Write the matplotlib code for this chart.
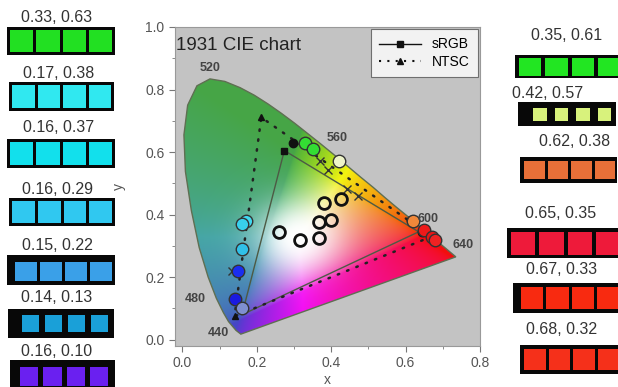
import numpy as np
import matplotlib.pyplot as plt
from matplotlib.patches import Polygon, Rectangle
from matplotlib.lines import Line2D

plt.rcParams['font.family'] = ['Liberation Sans', 'DejaVu Sans']

# spectral locus, 450 nm -> 700 nm
locus_x = [0.157, 0.144, 0.124, 0.110, 0.091, 0.069, 0.045, 0.024, 0.008, 0.004,
           0.014, 0.039, 0.074, 0.114, 0.155, 0.193, 0.230, 0.266, 0.302, 0.337,
           0.373, 0.409, 0.444, 0.479, 0.513, 0.545, 0.575, 0.603, 0.627, 0.666,
           0.692, 0.719, 0.735]
locus_y = [0.018, 0.030, 0.058, 0.087, 0.133, 0.201, 0.295, 0.413, 0.538, 0.655,
           0.750, 0.812, 0.834, 0.826, 0.806, 0.782, 0.754, 0.724, 0.692, 0.659,
           0.625, 0.590, 0.555, 0.520, 0.487, 0.454, 0.424, 0.397, 0.373, 0.334,
           0.308, 0.281, 0.265]

# gamut triangles (R, G, B)
srgb_x = [0.635, 0.274, 0.160]
srgb_y = [0.345, 0.605, 0.080]
ntsc_x = [0.670, 0.212, 0.140]
ntsc_y = [0.330, 0.711, 0.075]

# measured LED colours (left and right swatch columns)
left_xy = [(0.33, 0.63), (0.17, 0.38), (0.16, 0.37), (0.16, 0.29),
           (0.15, 0.22), (0.14, 0.13), (0.16, 0.10)]
left_swatch = ['#22e022', '#30e8f0', '#12e0ec', '#30c8f0', '#3aa0e8', '#1aa0d8', '#6a20f0']
left_marker = ['#33dd33', '#40d8f0', '#38d0ec', '#30c0e8', '#1a2ef0', '#1a1ae0', '#7f8fd0']

right_xy = [(0.35, 0.61), (0.42, 0.57), (0.62, 0.38), (0.65, 0.35),
            (0.67, 0.33), (0.68, 0.32)]
right_swatch = ['#22e622', '#d8f27c', '#e87038', '#ee1a3a', '#f82a10', '#f5301a']
right_marker = ['#33dd33', '#eef4c8', '#f0883a', '#ee1a1a', '#e81515', '#ee2222']

# white-point samples (open circles)
open_x = [0.260, 0.316, 0.367, 0.366, 0.399, 0.381, 0.426]
open_y = [0.346, 0.319, 0.325, 0.378, 0.383, 0.437, 0.450]

# filled black reference dots
dot_x = [0.297, 0.157, 0.615, 0.645, 0.675]
dot_y = [0.630, 0.370, 0.383, 0.346, 0.319]

# cross markers
cross_x = [0.370, 0.391, 0.442, 0.471, 0.133]
cross_y = [0.572, 0.543, 0.482, 0.461, 0.220]

wl_labels = ['520', '560', '600', '640', '480', '440']
wl_pos = [(0.074, 0.870), (0.415, 0.644), (0.661, 0.386), (0.755, 0.304),
          (0.034, 0.129), (0.097, 0.020)]

fig = plt.figure(figsize=(6.18, 3.87), dpi=100)

# swatches live on a pixel-space overlay
bg = fig.add_axes([0, 0, 1, 1])
bg.set_xlim(0, 618)
bg.set_ylim(387, 0)
bg.axis('off')

left_boxes = [(7, 27, 115, 55), (9, 82, 114, 111), (7, 139, 115, 168), (9, 198, 115, 226),
              (7, 255, 115, 285), (8, 309, 114, 338), (10, 360, 115, 390)]
left_sq = [(10, 30, 112, 52, 3), (12, 85, 111, 108, 3), (10, 142, 112, 165, 3),
           (12, 201, 112, 223, 3), (15, 262, 112, 281, 3), (22, 315, 108, 332, 6),
           (20, 367, 108, 386, 5)]
left_lab = [(57, 17.5), (59, 73), (59, 128), (58, 189), (57, 245), (57, 298), (57, 352)]

right_boxes = [(515, 55, 620, 78), (518, 102, 616, 126), (520, 157, 617, 183),
               (507, 228, 620, 258), (513, 283, 620, 313), (520, 345, 620, 374)]
right_sq = [(519, 58, 620, 76, 4), (533, 108, 611, 121, 8), (524, 161, 615, 179, 3),
            (511, 232, 620, 255, 4), (521, 287, 619, 309, 3), (524, 349, 619, 370, 3)]
right_lab = [(567, 36), (548, 93), (575, 142), (561, 213), (562, 269), (562, 330)]


def swatch(box, sq, lab, color, xy):
    x0, y0, x1, y1 = box
    bg.add_patch(Rectangle((x0, y0), x1 - x0, y1 - y0, color='#080808', lw=0))
    sx0, sy0, sx1, sy1, gap = sq
    w = (sx1 - sx0 - 3 * gap) / 4
    for i in range(4):
        bg.add_patch(Rectangle((sx0 + i * (w + gap), sy0), w, sy1 - sy0,
                               color=color, lw=0))
    bg.text(lab[0], lab[1], f'{xy[0]:.2f}, {xy[1]:.2f}', ha='center', va='center',
            fontsize=11.5, color='#333333')


for b, s, l, c, xy in zip(left_boxes, left_sq, left_lab, left_swatch, left_xy):
    swatch(b, s, l, c, xy)
for b, s, l, c, xy in zip(right_boxes, right_sq, right_lab, right_swatch, right_xy):
    swatch(b, s, l, c, xy)

ax = fig.add_axes([175 / 618, 1 - 346 / 387, 305 / 618, 319 / 387])
ax.set_facecolor('#c3c3c3')
ax.set_xlim(-0.02, 0.8)
ax.set_ylim(-0.02, 1.0)

# chromaticity fill, clipped to the locus
gx = np.linspace(-0.02, 0.8, 420)
gy = np.linspace(-0.02, 1.0, 520)
X, Y = np.meshgrid(gx, gy)
yy = np.clip(Y, 0.005, None)
XYZ = np.stack([X / yy, np.ones_like(X), (1 - X - Y) / yy])
M = np.array([[3.2406, -1.5372, -0.4986],
              [-0.9689, 1.8758, 0.0415],
              [0.0557, -0.2040, 1.0570]])
rgb = np.clip(np.tensordot(M, XYZ, axes=1), 0, None)
rgb /= np.maximum(rgb.max(axis=0), 1e-9)
rgb = np.where(rgb <= 0.0031308, 12.92 * rgb, 1.055 * rgb ** (1 / 2.4) - 0.055)
r, g, b = rgb
# pull the green side away from cyan, then darken and mute it
b = b ** (1 + 0.8 * (1 - r))
rgb = np.stack([r, g, b])
rgb = rgb * (1 - 0.25 * (1 - r) * g)
mute = 0.4 * (1 - r) + 0.1
rgb = rgb * (1 - mute) + 0.55 * mute
# wide white core around the white point
wt = np.exp(-((X - 0.31) ** 2 + (Y - 0.33) ** 2) / 0.11 ** 2)
rgb = rgb * (1 - wt) + wt
rgb = np.clip(np.moveaxis(rgb, 0, -1), 0, 1)

locus = Polygon(np.column_stack([locus_x, locus_y]), closed=True,
                facecolor='none', edgecolor='#5f6f52', lw=1.0, zorder=2)
img = ax.imshow(rgb, origin='lower', extent=(-0.02, 0.8, -0.02, 1.0),
                aspect='auto', interpolation='bilinear', zorder=1)
ax.add_patch(locus)
img.set_clip_path(locus)

# gamut triangles
ax.plot(srgb_x + srgb_x[:1], srgb_y + srgb_y[:1], color='#4d5a45', lw=1.0, zorder=3)
ax.plot(srgb_x[1:2], srgb_y[1:2], 's', color='#111111', ms=4.5, zorder=3)
ax.plot(ntsc_x + ntsc_x[:1], ntsc_y + ntsc_y[:1], color='#222222', lw=1.8,
        linestyle=(0, (0.6, 3.4)), dash_capstyle='round', zorder=3)
ax.plot(ntsc_x, ntsc_y, '^', color='#111111', ms=5, zorder=3)

ax.plot(cross_x, cross_y, 'x', color='#333333', ms=6, mew=1.0, zorder=4)
ax.plot(dot_x, dot_y, 'o', color='#111111', ms=6, zorder=4)
ax.plot(open_x, open_y, 'o', mfc='none', mec='#111111', ms=8.5, mew=2.0, zorder=5)

pts = left_xy + right_xy
cols = left_marker + right_marker
for (px, py), c in zip(pts, cols):
    ax.plot(px, py, 'o', mfc=c, mec='#333333', ms=9, mew=1.0, zorder=6)

for t, (tx, ty) in zip(wl_labels, wl_pos):
    ax.text(tx, ty, t, ha='center', va='center', fontsize=9, fontweight='bold',
            color='#444444', zorder=7)

ax.text(0.003, 0.968, '1931 CIE chart', transform=ax.transAxes, ha='left', va='top',
        fontsize=13.5, color='#222222', zorder=7)

handles = [Line2D([], [], color='#111111', lw=1.0, marker='s', ms=5),
           Line2D([], [], color='#111111', lw=1.5, linestyle=(0, (1, 3)), marker='^', ms=5)]
leg = ax.legend(handles, ['sRGB', 'NTSC'], loc='upper right', fontsize=10,
                frameon=True, fancybox=False, borderaxespad=0.15, handlelength=3.0,
                borderpad=0.6, labelspacing=0.25)
leg.get_frame().set_edgecolor('#555555')
leg.get_frame().set_linewidth(0.8)
leg.set_zorder(8)

ax.set_xticks([0.0, 0.2, 0.4, 0.6, 0.8])
ax.set_yticks([0.0, 0.2, 0.4, 0.6, 0.8, 1.0])
ax.set_xticks([0.1, 0.3, 0.5, 0.7], minor=True)
ax.set_yticks([0.1, 0.3, 0.5, 0.7, 0.9], minor=True)
ax.tick_params(which='both', direction='out', color='#777777', labelsize=10,
               labelcolor='#555555')
ax.tick_params(which='major', length=4)
ax.tick_params(which='minor', length=2)
for s in ax.spines.values():
    s.set_color('#999999')
ax.set_xlabel('x', fontsize=10, color='#555555', labelpad=2)
ax.set_ylabel('y', fontsize=10, color='#555555', labelpad=14)

fig.savefig('out.png', dpi=100)
